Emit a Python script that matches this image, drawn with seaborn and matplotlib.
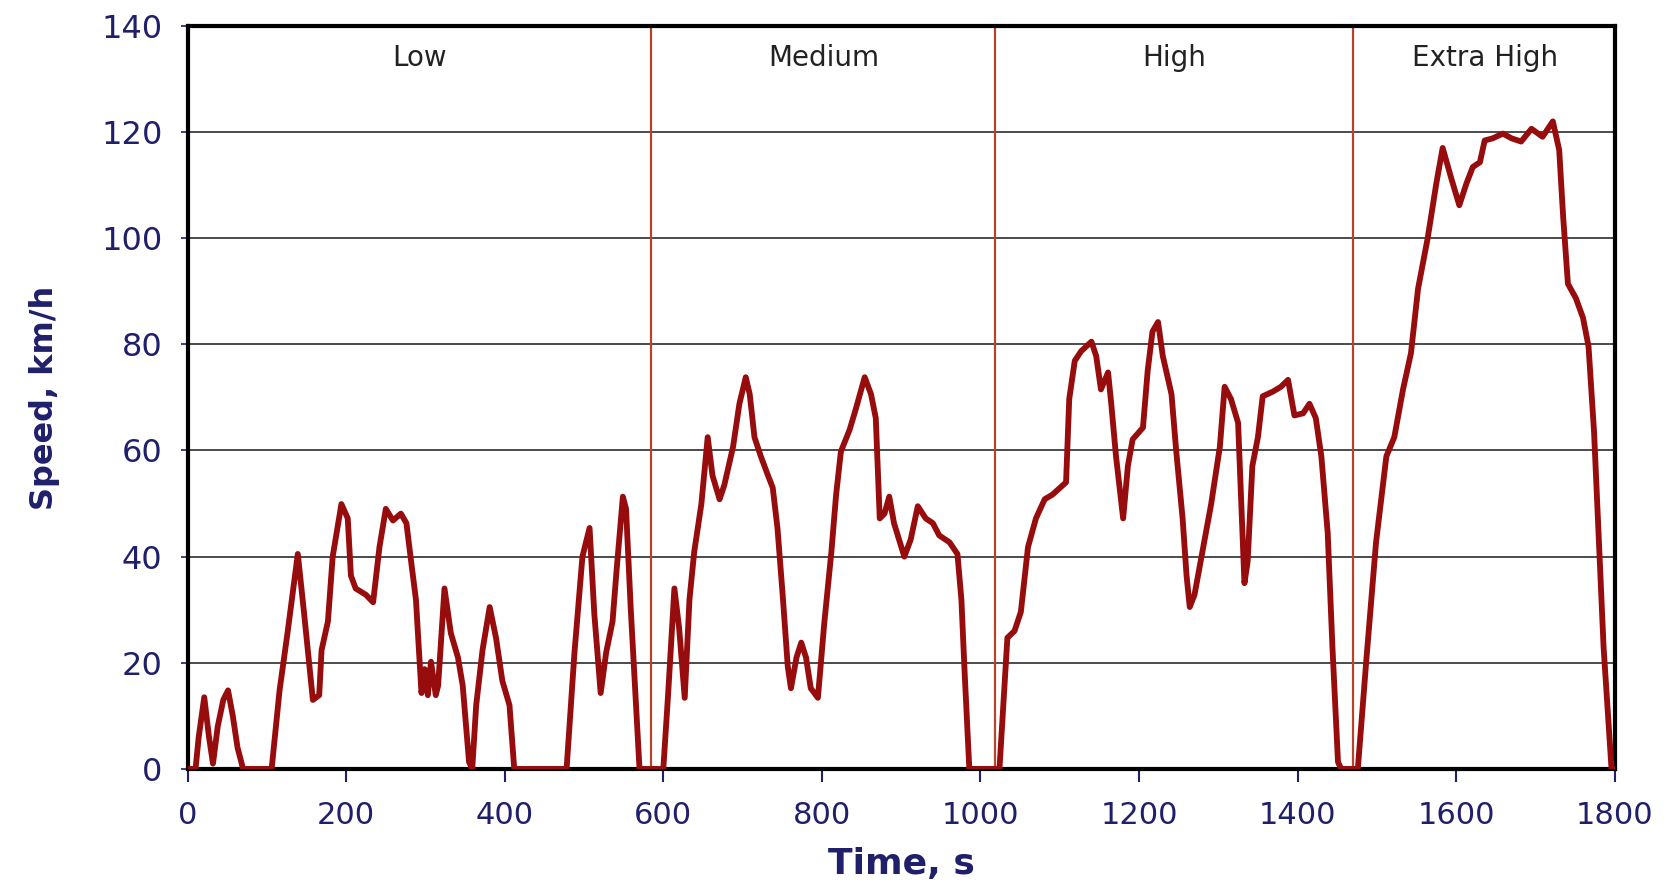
import matplotlib
matplotlib.use("Agg")
import matplotlib.pyplot as plt
import seaborn as sns
import pandas as pd

# Time (s) and speed (km/h) (WLTP-style cycle)
time_s = [0, 10, 14, 21, 27, 32, 38, 45, 51, 57, 63, 70, 106,
          116, 126, 139, 147, 158, 166, 169, 177, 183, 194, 202, 206, 212, 225, 234,
          242, 250, 259, 269, 276, 282, 288, 295, 299, 303, 307, 313, 316, 324, 332,
          341, 347, 355, 359, 364, 372, 381, 389, 397, 406, 412, 478,
          488, 498, 507, 513, 521, 528, 536, 541, 549, 553, 559, 570, 600,
          606, 614, 620, 627, 633, 639, 648, 656, 662, 671, 677, 688, 696, 704, 709,
          715, 723, 732, 738, 744, 751, 757, 761, 768, 774, 780, 786, 795, 803, 812,
          818, 824, 835, 843, 854, 862, 868, 873, 879, 885, 891, 904, 912, 921, 931,
          940, 948, 961, 971, 976, 980, 986, 1024,
          1034, 1043, 1051, 1060, 1070, 1081, 1091, 1108, 1112, 1119, 1127, 1140,
          1146, 1152, 1161, 1165, 1171, 1180, 1186, 1192, 1205, 1211, 1217, 1224,
          1230, 1241, 1247, 1255, 1260, 1264, 1270, 1281, 1291, 1302, 1308, 1316,
          1325, 1329, 1333, 1337, 1343, 1350, 1356, 1369, 1379, 1388, 1396, 1407,
          1415, 1423, 1430, 1438, 1444, 1451, 1455, 1476,
          1487, 1499, 1512, 1522, 1533, 1543, 1552, 1564, 1575, 1583, 1594, 1604,
          1613, 1621, 1630, 1636, 1646, 1659, 1670, 1682, 1695, 1709, 1722, 1730,
          1735, 1741, 1751, 1760, 1767, 1774, 1778, 1786, 1796, 1800]
speed_kmh = [0, 0, 6, 13.5, 6, 1, 8, 13, 14.8, 10, 4, 0, 0,
             14.8, 25.6, 40.5, 29.2, 13, 13.9, 22.4, 27.8, 40, 49.9, 47.2, 36.4, 34, 32.8, 31.4,
             41.8, 49, 46.8, 48.1, 46.3, 39, 31.9, 14.3, 18.8, 13.9, 20.2, 13.9, 15.7, 34, 25.6,
             21, 15.7, 1.3, 0, 12, 22.4, 30.5, 24.7, 16.6, 12, 0, 0,
             22, 40, 45.4, 29.2, 14.3, 22, 27.8, 37.3, 51.3, 49, 30, 0, 0,
             13.9, 34, 26.5, 13.4, 31.9, 40.9, 49.9, 62.5, 55.3, 50.8, 53.5, 60.7, 68.8, 73.8, 70.6,
             62.5, 58.9, 55.3, 53, 45.4, 31.9, 19.3, 15.2, 21, 23.8, 21, 15.2, 13.4, 27.4, 40.9,
             51.7, 59.8, 63.9, 67.9, 73.8, 70.6, 66.1, 47.2, 48.1, 51.3, 46.3, 40, 43.2, 49.5, 47.2,
             46.3, 44, 42.7, 40.5, 31.9, 18.4, 0, 0,
             24.7, 26, 29.6, 41.8, 47.2, 50.8, 51.7, 54, 69.7, 76.9, 78.7, 80.5,
             77.8, 71.5, 74.7, 68.8, 58.9, 47.2, 57.1, 62.1, 64.3, 75.1, 82.4, 84.2,
             77.8, 70.6, 59.8, 47.2, 36.4, 30.5, 32.8, 41.8, 49.9, 60.7, 72, 69.7,
             65.2, 49.9, 35, 39, 57.1, 62.5, 70.2, 71.1, 72, 73.3, 66.6, 67,
             68.8, 66.1, 58.9, 44.5, 22.9, 1.3, 0, 0,
             21, 42.7, 58.9, 62.5, 71.5, 78.3, 90.5, 99.9, 110.3, 117, 111.2, 106.2,
             110.3, 113.4, 114.3, 118.4, 118.8, 119.7, 118.8, 118.2, 120.6, 119.1, 122, 116.6,
             104, 91.4, 88.7, 85, 79.6, 63.4, 49.9, 22.9, 0, 0]

phase_bounds = [585, 1018, 1470]
phase_names = ["Low", "Medium", "High", "Extra High"]
phase_label_x = [292, 802, 1245, 1636]
y_ticks = [0, 20, 40, 60, 80, 100, 120, 140]
x_ticks = [0, 200, 400, 600, 800, 1000, 1200, 1400, 1600, 1800]

sns.set_theme(style="white")
plt.rcParams['font.family'] = ['DejaVu Sans']

df = pd.DataFrame({"Time, s": time_s, "Speed, km/h": speed_kmh})

fig, ax = plt.subplots(figsize=(16.75, 8.91), dpi=100)
fig.subplots_adjust(left=0.112, right=0.964, bottom=0.137, top=0.971)

for y in y_ticks[1:-1]:
    ax.axhline(y, color="#1a1a1a", lw=1.1, zorder=1)
for xb in phase_bounds:
    ax.axvline(xb, color="#b5452a", lw=1.6, zorder=1)

sns.lineplot(data=df, x="Time, s", y="Speed, km/h", ax=ax, color="#970c0c",
             lw=4.2, zorder=3, solid_joinstyle="round", solid_capstyle="round")

for name, xl in zip(phase_names, phase_label_x):
    ax.text(xl, 134.0, name, ha="center", va="center", fontsize=20,
            color="#222222", family="DejaVu Sans")

ax.set_xlim(0, 1800)
ax.set_ylim(0, 140)
ax.set_xticks(x_ticks)
ax.set_yticks(y_ticks)
navy = "#1f1f6b"
ax.tick_params(axis="x", colors=navy, labelsize=22, length=9, width=1.5,
               direction="out", bottom=True, pad=14)
ax.tick_params(axis="y", colors=navy, labelsize=23, length=5, width=1.2,
               direction="out", left=True, pad=13)
for lab in ax.get_xticklabels() + ax.get_yticklabels():
    lab.set_color(navy)
for t in ax.xaxis.get_ticklines():
    t.set_color("#333333")
for t in ax.yaxis.get_ticklines():
    t.set_color("#333333")

ax.set_xlabel("Time, s", fontsize=26, fontweight="bold", color=navy, labelpad=12)
ax.set_ylabel("Speed, km/h", fontsize=23, fontweight="bold", color=navy, labelpad=30)

for side in ["left", "bottom", "top", "right"]:
    ax.spines[side].set_color("black")
    ax.spines[side].set_linewidth(3)
    ax.spines[side].set_visible(True)

fig.savefig("out.png", dpi=100, facecolor="white")
